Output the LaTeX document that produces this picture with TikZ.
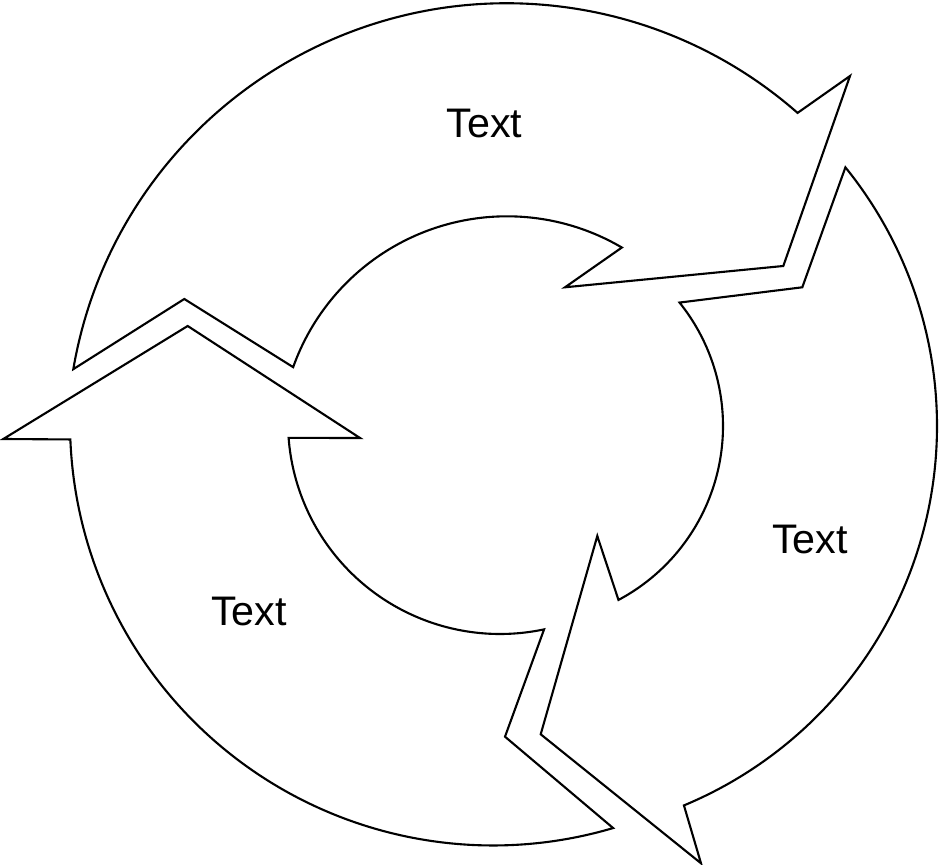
\documentclass[tikz,border=0pt]{standalone}
\usepackage{fontspec}
\setmainfont{Liberation Sans}
\usetikzlibrary{calc}
\begin{document}
\begin{tikzpicture}[x=0.02cm,y=0.02cm,
  arrowshape/.style={draw=black,line width=1.2pt,line join=miter,fill=white},
  lbl/.style={inner sep=0pt,anchor=base,font=\fontsize{23.5}{28}\selectfont}]
\fill[white] (0,0) rectangle (940,865);
\useasboundingbox (0,0) rectangle (940,865);
\coordinate (C1) at (507,421.7);
\coordinate (C2) at (526,439);
\coordinate (O3) at (493,442.5);
\coordinate (I3) at (500,443);
% arrow 1 (top)
\coordinate (a1ob) at (850,789);
\coordinate (a1tip) at (783.3,599);
\coordinate (a1ib) at (565,577.7);
\coordinate (a1notch) at (184.3,566);
\draw[arrowshape] ($(C1)+(170.3:440)$) arc[start angle=170.3,end angle=48.67,radius=440]
  -- (a1ob) -- (a1tip) -- (a1ib) -- ($(C1)+(59.6:227)$)
  arc[start angle=59.6,end angle=160.4,radius=227] -- (a1notch) -- cycle;
% arrow 2 (right)
\coordinate (a2ob) at (701,1.7);
\coordinate (a2tip) at (540.7,130.7);
\coordinate (a2ib) at (597.3,329);
\coordinate (a2notch) at (802.3,577.7);
\draw[arrowshape] ($(C2)+(39:411)$) arc[start angle=39,end angle=-67.4,radius=411]
  -- (a2ob) -- (a2tip) -- (a2ib) -- ($(C2)+(-62:197)$)
  arc[start angle=-62,end angle=38.8,radius=197] -- (a2notch) -- cycle;
% arrow 3 (left)
\coordinate (a3notch) at (505,128.3);
\coordinate (a3ib) at (360,427);
\coordinate (a3tip) at (187.7,539);
\coordinate (a3ob) at (3.3,426);
\draw[arrowshape] ($(O3)+(182.3:423)$) arc[start angle=182.3,end angle=286.5,radius=423]
  -- (a3notch) -- ($(I3)+(282:212)$)
  arc[start angle=282,end angle=184.3,radius=212]
  -- (a3ib) -- (a3tip) -- (a3ob) -- cycle;
% labels
\node[lbl] (t1) at (484.5,727.3) {Text};
\node[lbl] (t2) at (810,311.7) {Text};
\node[lbl] (t3) at (249,239) {Text};
\end{tikzpicture}
\end{document}
